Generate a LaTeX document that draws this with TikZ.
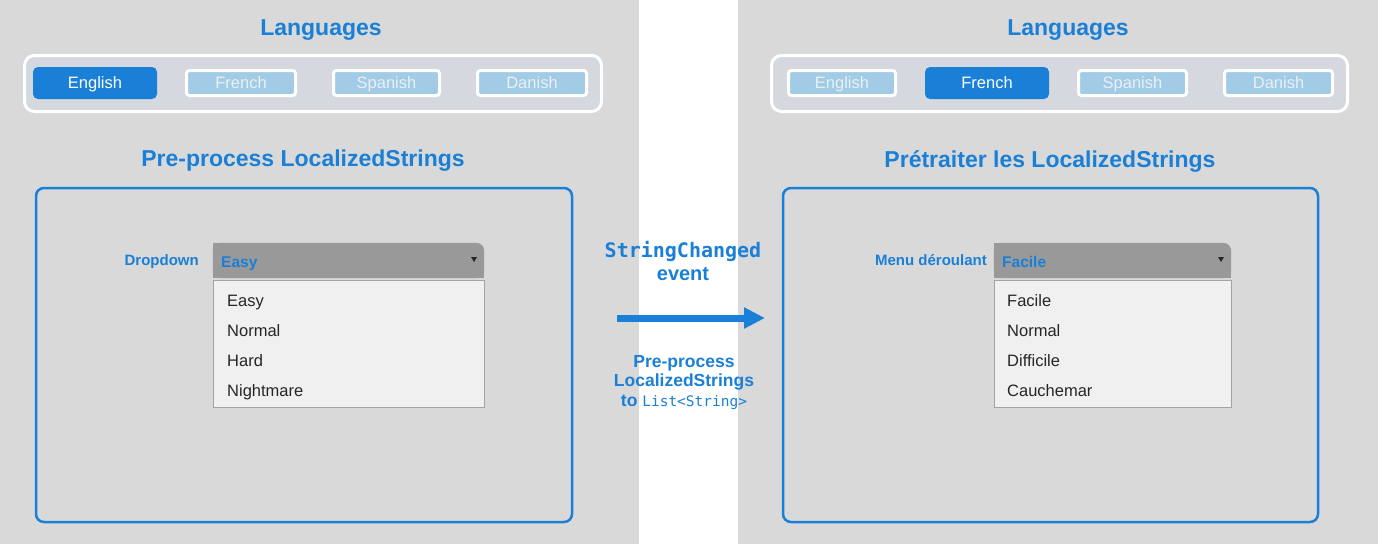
\documentclass[tikz,border=0pt]{standalone}
\usepackage{fontspec}
\setmainfont{Liberation Sans}
\newfontfamily\codefont{DejaVu Sans Mono}
\usetikzlibrary{arrows.meta,positioning}

\definecolor{panelgray}{HTML}{D9D9D9}
\definecolor{uiblue}{HTML}{1A7FD6}
\definecolor{barfill}{HTML}{D5D9DF}
\definecolor{btnfill}{HTML}{A2CBE6}
\definecolor{btntext}{HTML}{E8F1F9}
\definecolor{headgray}{HTML}{999999}
\definecolor{listfill}{HTML}{F0F0F0}
\definecolor{listline}{HTML}{A3A3A3}
\definecolor{itemtext}{HTML}{262626}

\tikzset{
  title/.style={text=uiblue, font=\fontsize{23}{27}\selectfont\bfseries},
  langbar/.style={draw=white, line width=3pt, fill=barfill, rounded corners=10pt, inner sep=0pt},
  btnon/.style={fill=uiblue, rounded corners=5pt, text=white, inner sep=0pt,
    text height=11.8pt, text depth=0pt,
    minimum width=124, minimum height=32, font=\fontsize{16.5}{20}\selectfont},
  btnoff/.style={draw=white, line width=3pt, fill=btnfill, rounded corners=3pt, text=btntext,
    inner sep=0pt, text height=11.8pt, text depth=0pt,
    minimum height=25, font=\fontsize{16.5}{20}\selectfont},
  panelbox/.style={draw=uiblue, line width=2.5pt, rounded corners=8pt, inner sep=0pt},
  ddlabel/.style={anchor=base east, text=uiblue, inner sep=0pt, font=\fontsize{15}{18}\selectfont\bfseries},
  ddvalue/.style={anchor=base west, text=uiblue, inner sep=0pt, font=\fontsize{15.5}{18}\selectfont\bfseries},
  ddlist/.style={draw=listline, line width=1pt, fill=listfill, inner sep=0pt, minimum height=127},
  dditem/.style={anchor=base west, text=itemtext, inner sep=0pt, font=\fontsize{16.5}{20}\selectfont},
  evtext/.style={text=uiblue, align=center, inner sep=0pt},
  flowarrow/.style={draw=uiblue, line width=7pt, -{Triangle[length=21pt,width=20pt]}}
}

\begin{document}
\begin{tikzpicture}[x=1pt, y=-1pt]
  \useasboundingbox (0,0) rectangle (1378,544);
  % background panels
  \fill[panelgray] (0,0) rectangle (639,544);
  \fill[panelgray] (738,0) rectangle (1378,544);

  % left panel
  \node[title] (langL) at (321,30) {Languages};
  \node[langbar, minimum width=577, minimum height=56] (barL) at (313,83.5) {};
  \node[btnon] (englishL) at (95,83) {English};
  \node[btnoff, minimum width=109] (frenchL) at (241,83) {French};
  \node[btnoff, minimum width=106] (spanishL) at (386.5,83) {Spanish};
  \node[btnoff, minimum width=109] (danishL) at (532,83) {Danish};

  \node[title] (procL) at (303,161) {Pre-process LocalizedStrings};
  \node[panelbox, minimum width=536, minimum height=334] (boxL) at (304,355) {};

  \node[inner sep=0pt, minimum width=271, minimum height=35] (ddheadL) at (348.5,260.5) {};
  \fill[headgray, rounded corners=8pt] (ddheadL.south west) rectangle (ddheadL.north east);
  \fill[headgray] (ddheadL.south west) rectangle ([xshift=-12pt]ddheadL.north east);
  \fill[headgray] ([yshift=12pt]ddheadL.south west) rectangle (ddheadL.south east);
  \fill[itemtext] (471,257) -- (477,257) -- (474,262) -- cycle;
  \node[ddlabel] (labelL) at (199,265) {Dropdown};
  \node[ddvalue] (valueL) at (221,267) {Easy};
  \node[ddlist, minimum width=271] (listL) at (348.5,343.5) {};
  \node[dditem] (itemL1) at (227,306) {Easy};
  \node[dditem] (itemL2) at (227,336) {Normal};
  \node[dditem] (itemL3) at (227,366) {Hard};
  \node[dditem] (itemL4) at (227,396) {Nightmare};

  % middle
  \node[evtext, font=\fontsize{20}{23}\selectfont\bfseries] (evt) at (683,260.5)
    {{\codefont StringChanged}\\event};
  \node[evtext, font=\fontsize{17.5}{19.5}\selectfont\bfseries] (conv) at (684,382.5)
    {Pre-process\\LocalizedStrings\\to {\codefont\mdseries\fontsize{14.5}{19.5}\selectfont List<String>}};
  \coordinate (arrtail) at (617,318);
  \coordinate (arrtip) at (765,318);
  \draw[flowarrow] (arrtail) -- (arrtip);

  % right panel
  \node[title] (langR) at (1068,30) {Languages};
  \node[langbar, minimum width=576, minimum height=56] (barR) at (1059.5,83.5) {};
  \node[btnoff, minimum width=107] (englishR) at (842,83) {English};
  \node[btnon] (frenchR) at (987,83) {French};
  \node[btnoff, minimum width=108] (spanishR) at (1132.5,83) {Spanish};
  \node[btnoff, minimum width=108] (danishR) at (1278.5,83) {Danish};

  \node[title] (procR) at (1050,161) {Prétraiter les LocalizedStrings};
  \node[panelbox, minimum width=535, minimum height=334] (boxR) at (1050.5,355) {};

  \node[inner sep=0pt, minimum width=237, minimum height=35] (ddheadR) at (1112.5,260.5) {};
  \fill[headgray, rounded corners=8pt] (ddheadR.south west) rectangle (ddheadR.north east);
  \fill[headgray] (ddheadR.south west) rectangle ([xshift=-12pt]ddheadR.north east);
  \fill[headgray] ([yshift=12pt]ddheadR.south west) rectangle (ddheadR.south east);
  \fill[itemtext] (1218,257) -- (1224,257) -- (1221,262) -- cycle;
  \node[ddlabel] (labelR) at (987,265) {Menu déroulant};
  \node[ddvalue] (valueR) at (1002,267) {Facile};
  \node[ddlist, minimum width=237] (listR) at (1112.5,343.5) {};
  \node[dditem] (itemR1) at (1007,306) {Facile};
  \node[dditem] (itemR2) at (1007,336) {Normal};
  \node[dditem] (itemR3) at (1007,366) {Difficile};
  \node[dditem] (itemR4) at (1007,396) {Cauchemar};
\end{tikzpicture}
\end{document}
